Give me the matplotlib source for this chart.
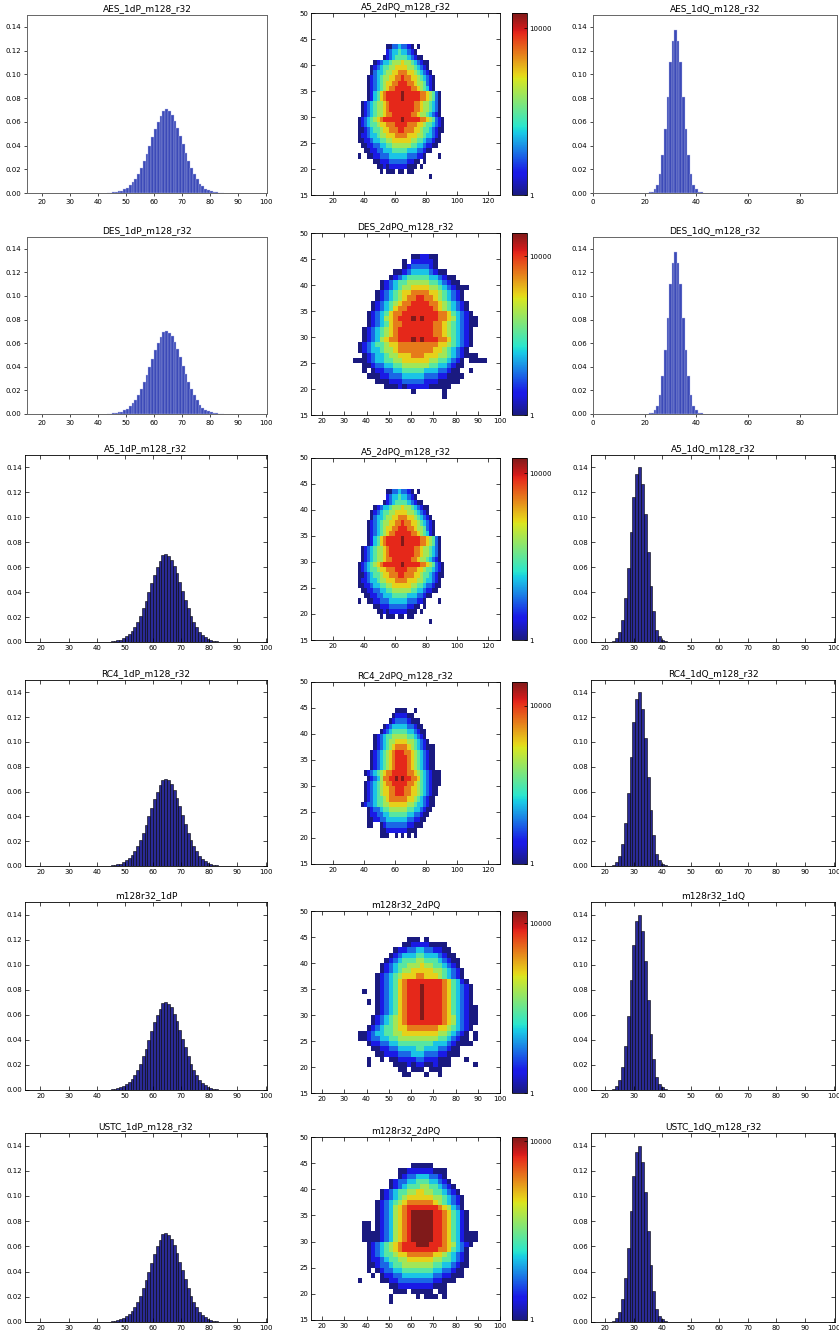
import matplotlib
matplotlib.use("Agg")
import matplotlib.pyplot as plt
import numpy as np
from matplotlib.colors import LogNorm, ListedColormap
from matplotlib.ticker import FormatStrFormatter

W, H = 839, 1333

# 1-D histograms (normalised), one bar per integer value
P_VALUES = list(range(43, 85))
P_DENSITY = [0.0002, 0.0003, 0.0005, 0.0008, 0.0013, 0.002, 0.003, 0.0045, 0.0065, 0.009,
             0.012, 0.016, 0.021, 0.027, 0.033, 0.040, 0.047, 0.054, 0.060, 0.065,
             0.0695, 0.0705, 0.069, 0.066, 0.061, 0.055, 0.048, 0.041, 0.034, 0.027,
             0.021, 0.016, 0.012, 0.008, 0.0055, 0.0037, 0.0024, 0.0015, 0.0009, 0.0005,
             0.0003, 0.0002]

Q_VALUES_NEW = list(range(22, 43))
Q_DENSITY_NEW = [0.0005, 0.001, 0.003, 0.007, 0.016, 0.032, 0.054, 0.081, 0.110, 0.128,
                 0.137, 0.128, 0.110, 0.081, 0.054, 0.032, 0.016, 0.007, 0.003, 0.001, 0.0005]

Q_VALUES_OLD = list(range(23, 42))
Q_DENSITY_OLD = [0.001, 0.003, 0.008, 0.018, 0.035, 0.059, 0.088, 0.116, 0.135, 0.140,
                 0.127, 0.103, 0.072, 0.045, 0.025, 0.010, 0.005, 0.002, 0.0005]

TITLES_P = ["AES_1dP_m128_r32", "DES_1dP_m128_r32", "A5_1dP_m128_r32",
            "RC4_1dP_m128_r32", "m128r32_1dP", "USTC_1dP_m128_r32"]
TITLES_PQ = ["A5_2dPQ_m128_r32", "DES_2dPQ_m128_r32", "A5_2dPQ_m128_r32",
             "RC4_2dPQ_m128_r32", "m128r32_2dPQ", "m128r32_2dPQ"]
TITLES_Q = ["AES_1dQ_m128_r32", "DES_1dQ_m128_r32", "A5_1dQ_m128_r32",
            "RC4_1dQ_m128_r32", "m128r32_1dQ", "USTC_1dQ_m128_r32"]

# 2-D histograms: P bins of width 2 (x), Q bins of width 1 (y).
# Each row: (Q, first P, colour levels). Level d means count = max ** (d / 9),
# '.' is an empty bin.
X_EDGES = np.arange(34, 97, 2)
Y_EDGES = np.arange(17, 47)

A5_MAX = 23000
A5_ROWS = [
    (43, 54, "002232210.0"),
    (42, 54, "1233433210"),
    (41, 52, "0123444432100"),
    (40, 46, "012334555655432100"),
    (39, 44, "0123445566665543210"),
    (38, 44, "02334556677766543210"),
    (37, 42, "0123455667787766543210"),
    (36, 42, "0123456677888776554210"),
    (35, 42, "0123456778888877654310"),
    (34, 42, "013467888889888887765420"),
    (33, 42, "013467888889888887765420"),
    (32, 38, "01234556788888888776554320"),
    (31, 38, "01234556788888888776554320"),
    (30, 38, "01234556778888887765543210"),
    (29, 36, "0123456788888898888877654210"),
    (28, 36, "0123445667778888777665443210"),
    (27, 36, "0012344566777887776654432100"),
    (26, 36, "011233455666777766655433210"),
    (25, 36, "001123344556666665544322100"),
    (24, 38, "0011223344555555443321100"),
    (23, 40, "0011223334444433322100"),
    (22, 36, "0..0011222333333222110....0"),
    (21, 46, "001112222221100.0"),
    (20, 48, "0010111111000.0"),
    (19, 50, "0.000.00.00"),
    (18, 82, "0"),
]

DES_MAX = 39000
DES_ROWS = [
    (45, 60, "001100"),
    (44, 56, "0.111110"),
    (43, 56, "01222210"),
    (42, 52, "001233332100"),
    (41, 50, "012344444332100"),
    (40, 46, "012344555554432100"),
    (39, 46, "01234556666554321000"),
    (38, 44, "01234566777766543210"),
    (37, 44, "01234567788776543210"),
    (36, 42, "0123456778888776543210"),
    (35, 42, "0123467788888876543210"),
    (34, 40, "012346778888888877643210"),
    (33, 40, "0123567888989888776532100"),
    (32, 40, "0123467788888887765432100"),
    (31, 38, "0123456788888888776543210"),
    (30, 38, "0123456788888888776543210"),
    (29, 38, "0123567788898988877643210"),
    (28, 36, "01234456677777777766543210"),
    (27, 36, "0123345567777777766543210"),
    (26, 38, "01233455666777666554321000"),
    (25, 34, "0001233445566666655443210.0000"),
    (24, 38, "00122334455555544332100"),
    (23, 38, "0.01122334444433322100..0"),
    (22, 40, "0001122233333222110000"),
    (21, 44, "0001112222211100000"),
    (20, 48, "000101111100000"),
    (19, 60, "0......0"),
    (18, 74, "0"),
]

RC4_MAX = 40000
RC4_ROWS = [
    (44, 60, "0000..0"),
    (43, 58, "0111100"),
    (42, 56, "0122221000"),
    (41, 52, "0123333322100"),
    (40, 50, "012344444332100"),
    (39, 46, "01234455555443210"),
    (38, 46, "012345566665543210"),
    (37, 46, "01234567777654321000"),
    (36, 44, "012345678887765432100"),
    (35, 44, "012345678888765432100"),
    (34, 44, "012345678888765432100"),
    (33, 44, "012345678888765432100"),
    (32, 40, "0123456778888877654321000"),
    (31, 42, "012357788989887764321000"),
    (30, 40, "0123456778888877654321000"),
    (29, 40, "012345667788877665432100"),
    (28, 40, "012345667788877665432100"),
    (27, 40, "01234456777777665432100"),
    (26, 38, "012234455666666554332100"),
    (25, 42, "012234455555544332100"),
    (24, 42, "01122334444443322100"),
    (23, 42, "0011223333333221100"),
    (22, 42, "00..01222222211000"),
    (21, 50, "001111111000"),
    (20, 50, "000..0.0.0.0"),
]

M5_MAX = 19500
M5_ROWS = [
    (44, 58, "000.0"),
    (43, 56, "0011110000"),
    (42, 52, "0112233221100"),
    (41, 50, "012333443332100"),
    (40, 48, "01234445544432100"),
    (39, 46, "012344555655443210"),
    (38, 46, "0123455666665543210"),
    (37, 44, "01234566677666543210"),
    (36, 44, "012346788888888764310"),
    (35, 44, "0123467888988887643210"),
    (34, 38, "0..0123467888988887643210"),
    (33, 44, "0123467888988887643210"),
    (32, 40, "0.0123467888988887643210"),
    (31, 44, "01234678889888876432100"),
    (30, 44, "01234678889888876432100"),
    (29, 42, "012345678889888876532100"),
    (28, 42, "012345678888888876532100"),
    (27, 40, "012344566777777766543210"),
    (26, 36, "0012334455666666665543210.0"),
    (25, 36, "0012233445555555554432100.0"),
    (24, 40, "011223344444444333210000"),
    (23, 42, "00112233334433322100"),
    (22, 44, "0011122233322211000"),
    (21, 40, "0..0.00111122111000...0"),
    (20, 40, "0.....0001011001000.....0"),
    (19, 54, "00.000.000"),
    (18, 56, "00...0..0"),
]

M6_MAX = 12300
M6_ROWS = [
    (44, 60, "00000"),
    (43, 54, "00111111000"),
    (42, 54, "01223332210"),
    (41, 50, "01223344433210"),
    (40, 50, "012344455443210"),
    (39, 46, "012344556655443210"),
    (38, 46, "0123456666665543210"),
    (37, 44, "01234567777776543210"),
    (36, 44, "01235678888888765320"),
    (35, 44, "012356789999988764310"),
    (34, 44, "012356789999988764310"),
    (33, 38, "00.012356789999988764310"),
    (32, 38, "00.012356789999988764310"),
    (31, 38, "00001235678999998876431000"),
    (30, 38, "00001235678999998876431000"),
    (29, 40, "012345678889998887653210"),
    (28, 40, "01234567888888887764320"),
    (27, 40, "01234456677777766543210"),
    (26, 40, "01123445566666655443210"),
    (25, 40, "00122344555555544332100"),
    (24, 40, "0.01223344444443322100"),
    (23, 42, "0.0112233333332211000"),
    (22, 36, "0....00112222222211000"),
    (21, 50, "0011111111000"),
    (20, 52, "000.00000.00"),
    (19, 50, "0.....0.000.0"),
    (18, 50, "0"),
]

GRIDS = [(A5_ROWS, A5_MAX), (DES_ROWS, DES_MAX), (A5_ROWS, A5_MAX),
         (RC4_ROWS, RC4_MAX), (M5_ROWS, M5_MAX), (M6_ROWS, M6_MAX)]

# pixel boxes (top, bottom)
SIDE_BOXES = [(15, 193), (237, 414), (455, 642), (680, 866), (902, 1090), (1133, 1322)]
MID_BOXES = [(13, 195), (233, 415), (458, 640), (682, 864), (911, 1093), (1137, 1320)]
WIDE_PQ_ROWS = [0, 2, 3]   # middle panels with the 5..128 x range

# jet, a little washed out like the printed figure
jet = plt.get_cmap("jet")(np.linspace(0, 1, 256))
jet[:, :3] = jet[:, :3] * 0.8 + 0.1
SOFT_JET = ListedColormap(jet)


def rect(left, top, right, bottom):
    return [left / W, 1 - bottom / H, (right - left) / W, (bottom - top) / H]


def style_axes(ax, modern):
    if modern:
        ax.tick_params(direction="out", length=2.5, width=0.5, labelsize=5,
                       top=False, right=False, pad=1.5)
        for s in ax.spines.values():
            s.set_color("#666666")
            s.set_linewidth(0.7)
    else:
        ax.tick_params(direction="in", length=3, width=0.5, labelsize=5,
                       top=True, right=True, pad=2)
        for s in ax.spines.values():
            s.set_color("black")
            s.set_linewidth(0.6)


def to_counts(rows, count_max):
    counts = np.full((len(Y_EDGES) - 1, len(X_EDGES) - 1), np.nan)
    for q, x0, levels in rows:
        r = q - Y_EDGES[0]
        c0 = (x0 - X_EDGES[0]) // 2
        for k, ch in enumerate(levels):
            if ch != ".":
                counts[r, c0 + k] = count_max ** (int(ch) / 9)
    return np.ma.masked_invalid(counts)


fig = plt.figure(figsize=(W / 100, H / 100), dpi=100)

for i in range(6):
    modern = i < 2
    top, bottom = SIDE_BOXES[i]

    # left column: P
    if modern:
        ax = fig.add_axes(rect(27, top, 267, bottom))
        ax.bar(P_VALUES, P_DENSITY, width=1, align="edge", color="#3c4ab8",
               edgecolor="#b9bee8", linewidth=0.25)
    else:
        ax = fig.add_axes(rect(25, top, 267, bottom))
        ax.bar(P_VALUES, P_DENSITY, width=1, align="edge", color="#2a2a96",
               edgecolor="black", linewidth=0.4)
    ax.set_xlim(14.5, 100.5)
    ax.set_xticks(range(20, 101, 10))
    ax.set_ylim(0, 0.15)
    ax.set_yticks(np.arange(0, 0.141, 0.02))
    ax.yaxis.set_major_formatter(FormatStrFormatter("%.2f"))
    ax.set_title(TITLES_P[i], fontsize=6.5, pad=3)
    style_axes(ax, modern)

    # right column: Q
    if modern:
        ax = fig.add_axes(rect(593, top, 837, bottom))
        ax.bar(Q_VALUES_NEW, Q_DENSITY_NEW, width=1, color="#3c4ab8",
               edgecolor="#b9bee8", linewidth=0.25)
        ax.set_xlim(0, 94.5)
        ax.set_xticks(range(0, 81, 20))
    else:
        ax = fig.add_axes(rect(591, top, 835, bottom))
        ax.bar(Q_VALUES_OLD, Q_DENSITY_OLD, width=1, color="#2a2a96",
               edgecolor="black", linewidth=0.4)
        ax.set_xlim(15, 100.5)
        ax.set_xticks(range(20, 101, 10))
    ax.set_ylim(0, 0.15)
    ax.set_yticks(np.arange(0, 0.141, 0.02))
    ax.yaxis.set_major_formatter(FormatStrFormatter("%.2f"))
    ax.set_title(TITLES_Q[i], fontsize=6.5, pad=3)
    style_axes(ax, modern)

    # middle column: 2-D P/Q histogram, log colour scale
    mtop, mbottom = MID_BOXES[i]
    ax = fig.add_axes(rect(311, mtop, 500, mbottom))
    rows, cmax = GRIDS[i]
    mesh = ax.pcolormesh(X_EDGES, Y_EDGES, to_counts(rows, cmax), cmap=SOFT_JET,
                         norm=LogNorm(vmin=1, vmax=cmax))
    if i in WIDE_PQ_ROWS:
        ax.set_xlim(5.5, 128)
        ax.set_xticks(range(20, 121, 20))
    else:
        ax.set_xlim(15, 100)
        ax.set_xticks(range(20, 101, 10))
    ax.set_ylim(15, 50)
    ax.set_yticks(range(15, 51, 5))
    ax.set_title(TITLES_PQ[i], fontsize=6.5, pad=3)
    style_axes(ax, False)

    cax = fig.add_axes(rect(512, mtop, 527, mbottom))
    cb = fig.colorbar(mesh, cax=cax)
    cb.set_ticks([1, 10000])
    cb.set_ticklabels(["1", "10000"])
    cb.minorticks_off()
    cax.tick_params(direction="in", length=2.5, width=0.5, labelsize=5, pad=1.5)
    cb.outline.set_linewidth(0.6)

fig.savefig("out.png", dpi=100)
